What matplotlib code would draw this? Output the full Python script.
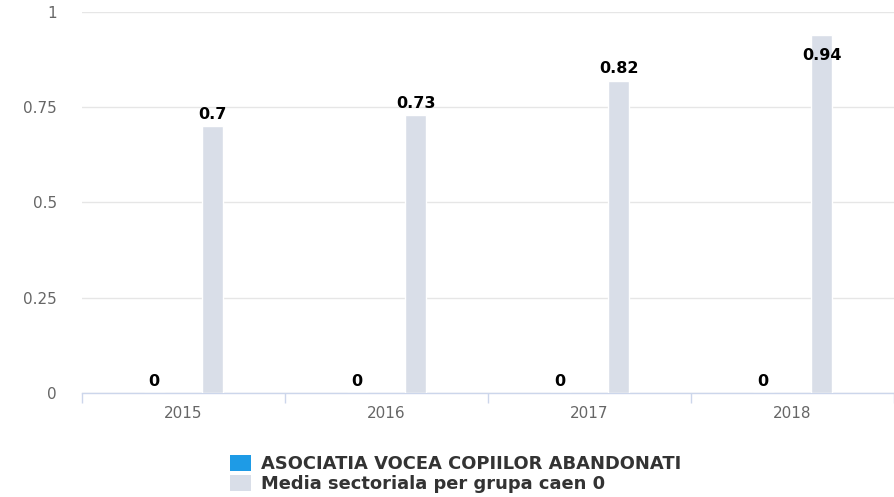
import numpy as np
import matplotlib.pyplot as plt
from matplotlib.patches import Patch

# data
years = ['2015', '2016', '2017', '2018']
firma = [0, 0, 0, 0]
media = [0.7, 0.73, 0.82, 0.94]
y_ticks = [0, 0.25, 0.5, 0.75, 1]
y_labels = ['0', '0.25', '0.5', '0.75', '1']
name_firma = 'ASOCIATIA VOCEA COPIILOR ABANDONATI'
name_media = 'Media sectoriala per grupa caen 0'

col_firma = '#1e9be6'
col_media = '#d9dee8'

fig = plt.figure(figsize=(8.95, 4.97), dpi=100)
ax = fig.add_axes([82/895, 104/497, 812/895, 381/497])

x = np.arange(len(years))
w = 0.104
off = 0.145
b1 = ax.bar(x - off, firma, w, color=col_firma, edgecolor='white', linewidth=1, zorder=3)
b2 = ax.bar(x + off, media, w, color=col_media, edgecolor='white', linewidth=1, zorder=3)

# value labels
lab_kw = dict(textcoords='offset points', ha='center', fontsize=11.5,
              fontweight='bold', color='black', zorder=4)
for xi, v in zip(x - off, firma):
    ax.annotate(str(v), (xi, v), xytext=(0, 3), va='bottom', **lab_kw)
for xi, v in zip(x + off, media):
    lab = '%g' % v
    if v > 0.9:
        # no room above, Highcharts puts it inside the bar
        ax.annotate(lab, (xi, v), xytext=(0, -9.5), va='top', **lab_kw)
    else:
        ax.annotate(lab, (xi, v), xytext=(0, 3), va='bottom', **lab_kw)

ax.set_xlim(-0.5, len(years) - 0.5)
ax.set_ylim(0, 1)

ax.set_yticks(y_ticks)
ax.set_yticklabels(y_labels)
ax.tick_params(axis='y', length=0, pad=18, labelsize=11, labelcolor='#666666')
ax.grid(axis='y', color='#e6e6e6', linewidth=1, zorder=0)

ax.set_xticks(np.arange(len(years) + 1) - 0.5)
ax.set_xticklabels([])
ax.tick_params(axis='x', which='major', length=7.5, color='#ccd6eb', width=1)
ax.set_xticks(x, minor=True)
ax.set_xticklabels(years, minor=True)
ax.tick_params(axis='x', which='minor', length=0, pad=9, labelsize=11, labelcolor='#666666')

for s in ['top', 'right', 'left']:
    ax.spines[s].set_visible(False)
ax.spines['bottom'].set_color('#ccd6eb')
ax.spines['bottom'].set_linewidth(1)

handles = [Patch(facecolor=col_firma, edgecolor='none', label=name_firma),
           Patch(facecolor=col_media, edgecolor='none', label=name_media)]
leg = fig.legend(handles=handles, loc='upper left', bbox_to_anchor=(217/895, 1 - 442/497),
                 frameon=False, prop={'weight': 'bold', 'size': 12.9}, handlelength=1.2,
                 handleheight=1.0, handletextpad=0.55, labelspacing=0.12, borderpad=0.2)
for t in leg.get_texts():
    t.set_color('#333333')

fig.savefig('out.png', dpi=100)
